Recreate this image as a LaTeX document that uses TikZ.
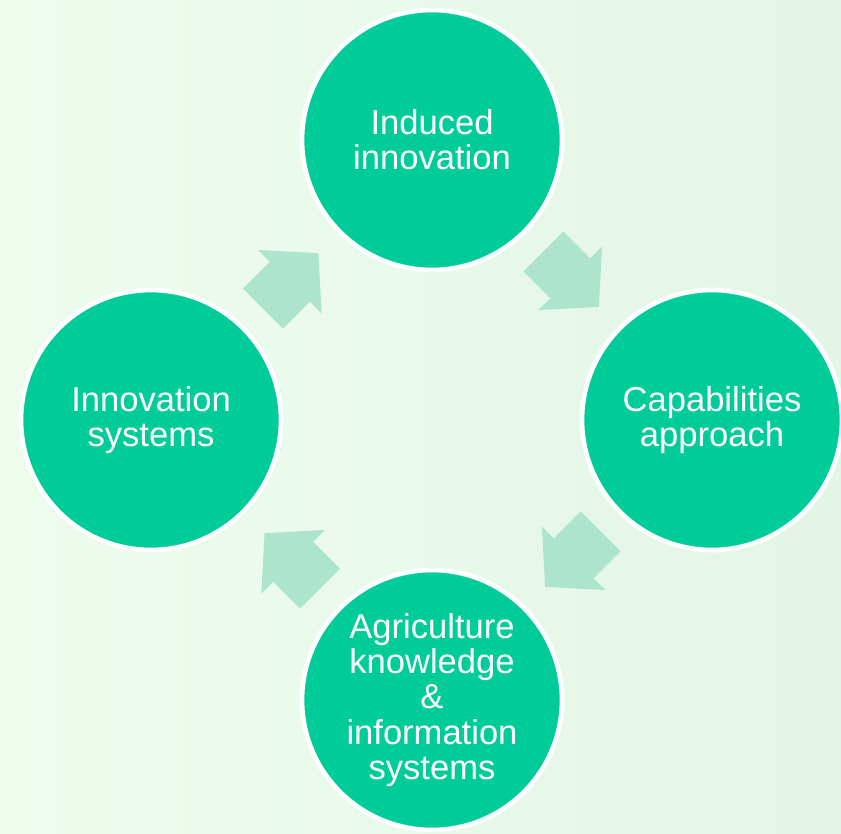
\documentclass[tikz,border=0pt]{standalone}
\usepackage{fontspec}
\setmainfont{Liberation Sans}
\usetikzlibrary{shapes.arrows,calc}

\definecolor{bgleft}{RGB}{238,252,238}
\definecolor{bgright}{RGB}{227,245,231}
\definecolor{topicgreen}{RGB}{0,204,153}
\definecolor{arrowgreen}{RGB}{172,228,206}

\tikzset{
    topic/.style={circle,fill=topicgreen,draw=white,line width=4pt,minimum size=7.8cm,
        inner sep=0pt,align=center,text=white,font=\fontsize{29.5}{30}\selectfont},
    flow/.style={single arrow,fill=arrowgreen,draw=none,minimum height=2.35cm,
        inner xsep=0pt,inner ysep=0.84cm,single arrow head extend=0.5cm,
        single arrow tip angle=96,anchor=tip}
}

\begin{document}
\begin{tikzpicture}
        % Background
        \shade[left color=bgleft,right color=bgright] (0,0) rectangle (25.23,-24.99);
        \useasboundingbox (0,0) rectangle (25.23,-24.99);

        \coordinate (T) at (12.96,-4.2);
        \coordinate (L) at (4.53,-12.6);
        \coordinate (R) at (21.36,-12.6);
        \coordinate (B) at (12.96,-21.0);

        % Draw circles
        \node[topic] (induced) at (T) {Induced\\innovation};
        \node[topic] (capab) at (R) {Capabilities\\approach};
        \node[topic] (akis) at (B) {Agriculture\\knowledge\\\&\\information\\systems};
        \node[topic] (innsys) at (L) {Innovation\\systems};

        % Draw arrows
        \foreach \from/\to/\ang/\name in {L/T/45/a1, T/R/-45/a2, R/B/-135/a3, B/L/135/a4} {
            \node[flow,rotate=\ang] (\name) at ($($(\from)!0.5!(\to)$)!1.15cm!(\to)$) {};
        }

\end{tikzpicture}
\end{document}
